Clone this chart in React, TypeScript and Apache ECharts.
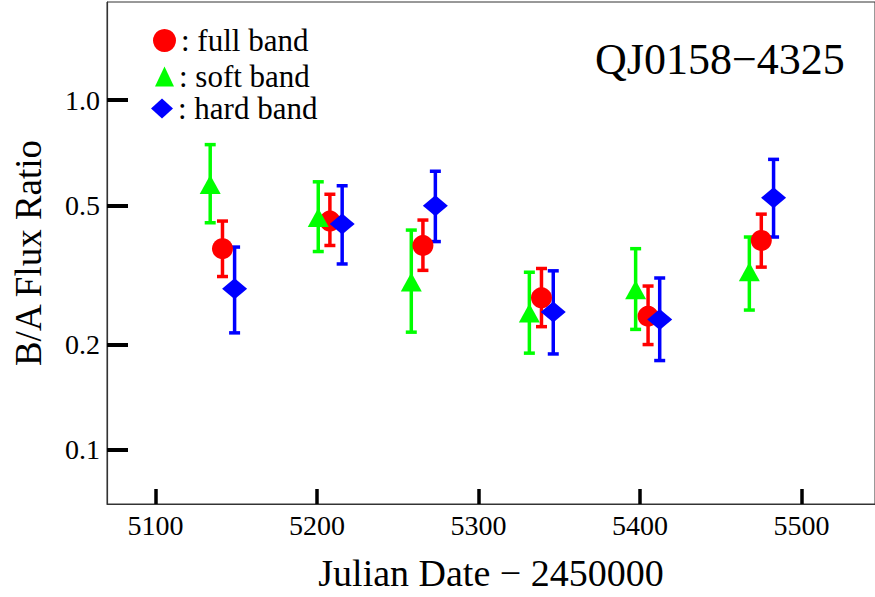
import React, { useEffect, useRef } from "react";
import * as echarts from "echarts";

// Tick values and labels
const xTicks = [5100, 5200, 5300, 5400, 5500];
const yTicks = [0.1, 0.2, 0.5, 1.0];
const yTickLabels = ["0.1", "0.2", "0.5", "1.0"];

// full band (red circles)
const fullX = [5141.5, 5208.0, 5265.6, 5339.0, 5405.0, 5475.1];
const fullY = [0.376, 0.451, 0.384, 0.272, 0.241, 0.397];
const fullLo = [0.313, 0.384, 0.326, 0.225, 0.2, 0.333];
const fullHi = [0.451, 0.538, 0.454, 0.33, 0.294, 0.472];

// soft band (green triangles)
const softX = [5133.9, 5200.8, 5258.4, 5331.5, 5397.3, 5467.7];
const softY = [0.574, 0.462, 0.302, 0.246, 0.287, 0.323];
const softLo = [0.446, 0.369, 0.217, 0.189, 0.221, 0.251];
const softHi = [0.746, 0.584, 0.425, 0.322, 0.376, 0.406];

// hard band (blue diamonds)
const hardX = [5149.0, 5215.6, 5273.3, 5346.3, 5412.2, 5482.7];
const hardY = [0.289, 0.442, 0.499, 0.248, 0.236, 0.526];
const hardLo = [0.216, 0.34, 0.394, 0.188, 0.18, 0.406];
const hardHi = [0.38, 0.569, 0.626, 0.325, 0.31, 0.677];

const FONT = "'Liberation Serif', 'Times New Roman', serif";

function errSeries(name: string, color: string, xs: number[], lo: number[], hi: number[]) {
  return {
    type: "custom",
    name,
    data: xs.map((x, i) => [x, lo[i], hi[i]]),
    encode: { x: 0, y: [1, 2] },
    renderItem: (params: any, api: any) => {
      const x = api.value(0);
      const p1 = api.coord([x, api.value(1)]);
      const p2 = api.coord([x, api.value(2)]);
      const cw = 5.5;
      const st = { stroke: color, lineWidth: 3.5 };
      return {
        type: "group",
        children: [
          { type: "line", shape: { x1: p1[0], y1: p1[1], x2: p2[0], y2: p2[1] }, style: st },
          { type: "line", shape: { x1: p1[0] - cw, y1: p1[1], x2: p1[0] + cw, y2: p1[1] }, style: st },
          { type: "line", shape: { x1: p2[0] - cw, y1: p2[1], x2: p2[0] + cw, y2: p2[1] }, style: st },
        ],
      };
    },
  };
}

function pointSeries(name: string, color: string, symbol: string, size: any, xs: number[], ys: number[]) {
  return {
    type: "scatter",
    name,
    symbol,
    symbolSize: size,
    itemStyle: { color, opacity: 1 },
    data: xs.map((x, i) => [x, ys[i]]),
  };
}

function legendItem(name: string, icon: string, w: number, h: number, left: number, top: number) {
  return {
    data: [name],
    icon,
    itemWidth: w,
    itemHeight: h,
    left,
    top,
    padding: 0,
    selectedMode: false,
    formatter: ": {name}",
    textStyle: { fontFamily: FONT, fontSize: 31, lineHeight: 26, color: "#000" },
  };
}

export default function App() {
  const ref = useRef<HTMLDivElement>(null);
  useEffect(() => {
    if (!ref.current) return;
    const chart = echarts.init(ref.current, null, { renderer: "svg" });
    chart.setOption({
      animation: false,
      backgroundColor: "#fff",
      title: {
        text: "QJ0158\u22124325",
        left: 595,
        top: 37,
        padding: 0,
        textStyle: { fontFamily: FONT, fontSize: 44, fontWeight: "normal", color: "#000" },
      },
      legend: [
        legendItem("full band", "circle", 23, 23, 153, 25),
        legendItem("soft band", "triangle", 19, 20, 155, 61),
        legendItem("hard band", "diamond", 22, 20, 151, 93),
      ],
      grid: {
        left: 107,
        right: -2,
        top: 2,
        bottom: 90,
        show: true,
        borderColor: "#333",
        borderWidth: 1,
        backgroundColor: "transparent",
      },
      xAxis: {
        type: "value",
        min: 5070,
        max: 5545.5,
        name: "Julian Date \u2212 2450000",
        nameLocation: "middle",
        nameGap: 50,
        nameTextStyle: { fontFamily: FONT, fontSize: 38, color: "#000" },
        axisLine: { show: true, lineStyle: { color: "#333", width: 1.2 } },
        axisTick: {
          show: true,
          inside: true,
          length: 15,
          customValues: xTicks,
          lineStyle: { color: "#000", width: 3.5 },
        },
        axisLabel: {
          customValues: xTicks,
          margin: 7,
          fontFamily: FONT,
          fontSize: 28,
          color: "#000",
          formatter: (v: number) => String(v),
        },
        splitLine: { show: false },
      },
      yAxis: {
        type: "log",
        min: 0.07,
        max: 1.908,
        name: "B/A Flux Ratio",
        nameLocation: "middle",
        nameGap: 60,
        nameTextStyle: { fontFamily: FONT, fontSize: 37, color: "#000" },
        axisLine: { show: true, lineStyle: { color: "#333", width: 1.2 } },
        axisTick: {
          show: true,
          inside: true,
          length: 21,
          customValues: yTicks,
          lineStyle: { color: "#000", width: 4 },
        },
        minorTick: { show: false },
        axisLabel: {
          customValues: yTicks,
          margin: 7,
          fontFamily: FONT,
          fontSize: 28,
          color: "#000",
          formatter: (v: number) => {
            const i = yTicks.findIndex((t) => Math.abs(t - v) < 1e-6);
            return i >= 0 ? yTickLabels[i] : "";
          },
        },
        splitLine: { show: false },
      },
      series: [
        errSeries("full err", "#ff0000", fullX, fullLo, fullHi),
        pointSeries("full band", "#ff0000", "circle", 21, fullX, fullY),
        errSeries("soft err", "#00ff00", softX, softLo, softHi),
        pointSeries("soft band", "#00ff00", "triangle", [21, 19], softX, softY),
        errSeries("hard err", "#0000ff", hardX, hardLo, hardHi),
        pointSeries("hard band", "#0000ff", "diamond", [25, 21], hardX, hardY),
      ],
    });
    return () => chart.dispose();
  }, []);
  return (
    <div
      ref={ref}
      style={{ position: "absolute", left: 0, top: 0, width: 875, height: 597 }}
    />
  );
}
